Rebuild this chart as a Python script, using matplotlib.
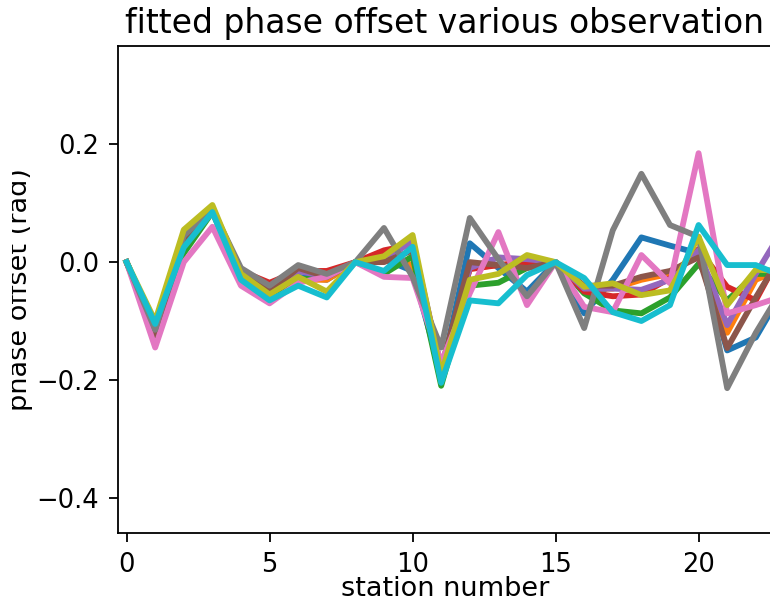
import matplotlib
matplotlib.use("Agg")
import matplotlib.pyplot as plt
from matplotlib.transforms import Bbox

stations = list(range(24))

blue   = [0, -0.115, 0.03, 0.085, -0.02, -0.05, -0.025, -0.03, 0, 0.005, -0.015, -0.19, 0.032, -0.01, -0.05, 0.0, -0.087, -0.03, 0.042, 0.028, 0.015, -0.15, -0.128, -0.045]
orange = [0, -0.11, 0.04, 0.09, -0.02, -0.05, -0.03, -0.03, 0, 0.01, -0.005, -0.19, -0.01, -0.005, -0.005, 0.0, -0.045, -0.045, -0.03, -0.02, 0.015, -0.12, -0.03, -0.01]
green  = [0, -0.11, 0.015, 0.085, -0.025, -0.055, -0.03, -0.025, 0, -0.02, 0.01, -0.21, -0.04, -0.035, -0.01, 0.0, -0.053, -0.082, -0.087, -0.06, -0.003, -0.065, -0.02, -0.02]
red    = [0, -0.12, 0.045, 0.09, -0.015, -0.035, -0.015, -0.015, 0, 0.02, 0.03, -0.18, -0.012, -0.005, 0.0, 0.0, -0.05, -0.058, -0.055, -0.027, 0.022, -0.042, -0.065, 0.025]
purple = [0, -0.12, 0.035, 0.085, -0.02, -0.045, -0.015, -0.025, 0, 0.005, 0.035, -0.18, -0.01, 0.008, 0.005, 0.0, -0.045, -0.045, -0.047, -0.03, 0.02, -0.107, -0.02, 0.06]
brown  = [0, -0.125, 0.04, 0.09, -0.015, -0.05, -0.01, -0.025, 0, 0.0, 0.02, -0.18, 0.0, -0.005, -0.01, 0.0, -0.04, -0.04, -0.025, -0.015, 0.008, -0.146, -0.06, 0.02]
pink   = [0, -0.145, 0.0, 0.06, -0.04, -0.07, -0.035, -0.025, 0, -0.025, -0.027, -0.17, -0.053, 0.051, -0.073, 0.0, -0.076, -0.085, 0.012, -0.036, 0.185, -0.087, -0.073, -0.057]
gray   = [0, -0.115, 0.045, 0.09, -0.01, -0.04, -0.005, -0.02, 0, 0.058, -0.025, -0.145, 0.075, 0.005, -0.058, 0.0, -0.112, 0.054, 0.15, 0.063, 0.043, -0.214, -0.12, -0.04]
olive  = [0, -0.10, 0.055, 0.097, -0.02, -0.055, -0.025, -0.05, 0, 0.01, 0.046, -0.19, -0.03, -0.02, 0.012, 0.0, -0.042, -0.036, -0.056, -0.048, 0.043, -0.073, -0.013, -0.015]
cyan   = [0, -0.105, 0.025, 0.085, -0.03, -0.065, -0.04, -0.06, 0, -0.015, 0.026, -0.205, -0.065, -0.07, -0.022, 0.0, -0.027, -0.085, -0.1, -0.073, 0.063, -0.005, -0.005, -0.025]

series = [blue, orange, green, red, purple, brown, pink, gray, olive, cyan]

title = "fitted phase offset various observation"
xlabel = "station number"
ylabel = "phase offset (rad)"
xticks = [0, 5, 10, 15, 20]
yticks = [-0.4, -0.2, 0.0, 0.2]

W, H = 770, 603
fig = plt.figure(figsize=(W / 100, H / 100), dpi=100)
left_px, right_px, top_px, bottom_px = 118, 772, 46, 533
ax = fig.add_axes([left_px / W, 1 - bottom_px / H, (right_px - left_px) / W, (bottom_px - top_px) / H])

for s in series:
    ax.plot(stations, s, linewidth=4.2)

ax.set_xlim(-0.3, -0.3 + (right_px - left_px) / 28.6)
ax.set_ylim(-0.46, 0.367)
ax.set_xticks(xticks)
ax.set_yticks(yticks)
ax.tick_params(labelsize=18.5, length=6.5, width=1.3, pad=7)
for sp in ax.spines.values():
    sp.set_linewidth(1.3)

ax.set_title(title, fontsize=23.8, pad=9)
ax.set_xlabel(xlabel, fontsize=19.5, labelpad=-1)
yl = ax.set_ylabel(ylabel, fontsize=19.5)
ax.yaxis.set_label_coords((33 - left_px) / (right_px - left_px), 0.5)
yl.set_clip_box(Bbox.from_extents(12, 0, W, H))
yl.set_clip_on(True)

fig.savefig("out.png", dpi=100)
